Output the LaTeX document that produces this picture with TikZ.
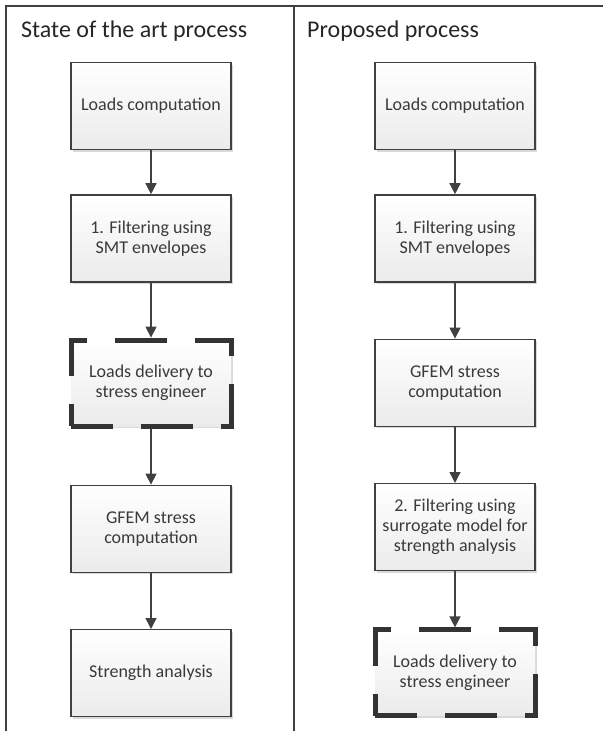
\documentclass[tikz,border=0pt]{standalone}
\usepackage{fontspec}
\setmainfont{Carlito}
\usetikzlibrary{arrows.meta,positioning,shadows}
\definecolor{ink}{HTML}{3A3A3A}
\definecolor{edge}{HTML}{404040}
\definecolor{paper}{HTML}{EBEBEB}

\begin{document}
\begin{tikzpicture}[
  font=\fontsize{18}{20}\selectfont,
  node distance=56pt,
  box/.style={draw=edge,line width=1.4pt,top color=white,bottom color=paper,text=ink,minimum width=160pt,minimum height=87pt,align=center,inner sep=2pt,drop shadow={shadow xshift=2pt,shadow yshift=-2pt,fill=black,opacity=.15}},
  handoff/.style={box,line width=5pt,draw=black!80,dash pattern=on 52pt off 28pt,dash phase=10pt,minimum height=86pt},
  arr/.style={-{Triangle[length=11pt,width=11pt]},line width=1.4pt,draw=edge},
  frame/.style={line width=1.4pt,draw=edge},
  lane/.style={font=\fontsize{24}{28}\selectfont,anchor=west,text=black!85,inner sep=0pt}
]
\useasboundingbox (0pt,0pt) rectangle (603pt,-731pt);
\draw[frame] (6pt,-731pt) |- (603pt,-6pt);
\draw[frame] (294pt,-6pt) -- (294pt,-731pt);

\node[lane] (oldhead) at (21pt,-31pt) {State of the art process};
\node[lane] (newhead) at (307pt,-31pt) {Proposed process};

% state of the art
\node[box] (oldloads) at (151pt,-106pt) {Loads computation};
\node[box,below=44pt of oldloads] (oldfilter) {1. Filtering using\\SMT envelopes};
\node[handoff,below=55pt of oldfilter] (olddeliv) {Loads delivery to\\stress engineer};
\node[box,below=of olddeliv] (oldgfem) {GFEM stress\\computation};
\node[box,below=of oldgfem] (oldstrength) {Strength analysis};

% proposed
\node[box] (newloads) at (455pt,-106pt) {Loads computation};
\node[box,below=44pt of newloads] (newfilter) {1. Filtering using\\SMT envelopes};
\node[box,below=of newfilter] (newgfem) {GFEM stress\\computation};
\node[box,below=of newgfem] (newsurr) {2. Filtering using\\surrogate model for\\strength analysis};
\node[handoff,below=of newsurr] (newdeliv) {Loads delivery to\\stress engineer};

\draw[arr] (oldloads)--(oldfilter);
\draw[arr] (oldfilter)--(olddeliv);
\draw[arr] (olddeliv)--(oldgfem);
\draw[arr] (oldgfem)--(oldstrength);
\draw[arr] (newloads)--(newfilter);
\draw[arr] (newfilter)--(newgfem);
\draw[arr] (newgfem)--(newsurr);
\draw[arr] (newsurr)--(newdeliv);
\end{tikzpicture}
\end{document}
